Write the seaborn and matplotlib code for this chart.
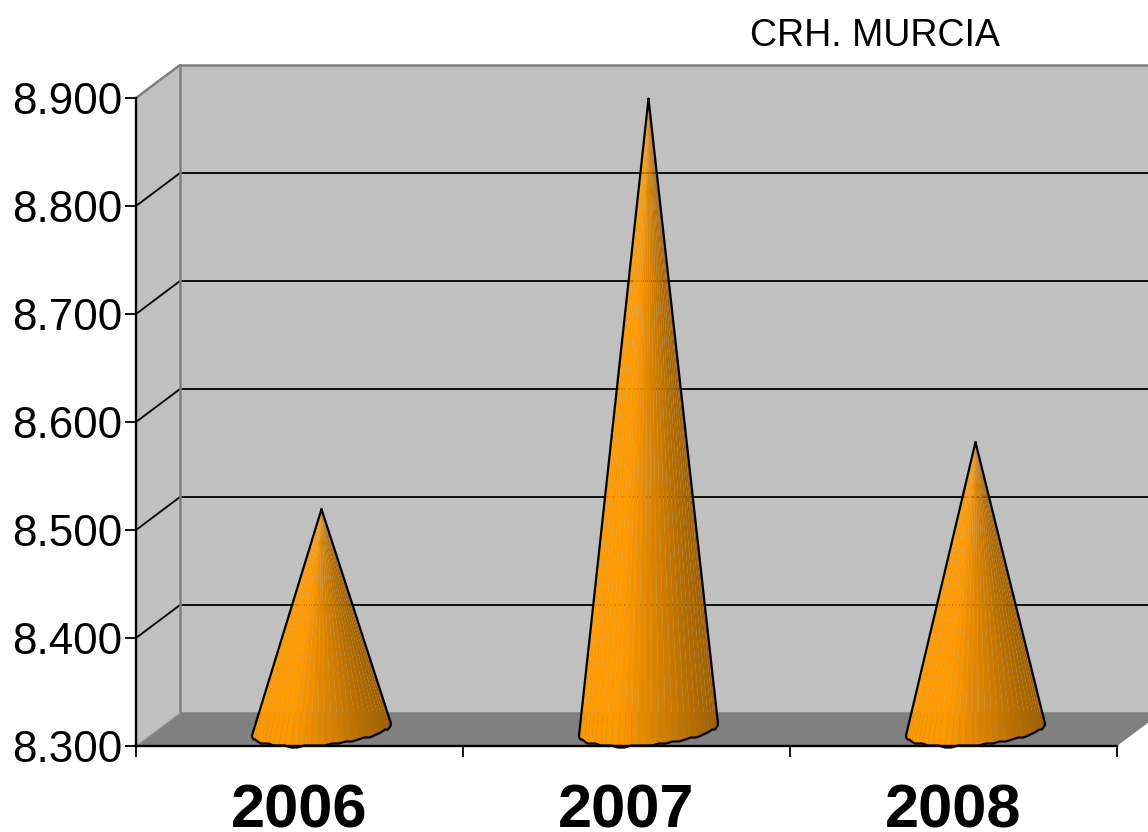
import numpy as np
import pandas as pd
import matplotlib
matplotlib.use("Agg")
import matplotlib.pyplot as plt
from matplotlib.transforms import Affine2D
import seaborn as sns

# Values
years = ["2006", "2007", "2008"]
visits = [8504, 8884, 8566]
y_ticks = [8300, 8400, 8500, 8600, 8700, 8800, 8900]
y_labels = ["8.300", "8.400", "8.500", "8.600", "8.700", "8.800", "8.900"]
title = "CRH. MURCIA"

df = pd.DataFrame({"year": years, "visits": visits})

sns.set_theme(style="white")
plt.rcParams["font.family"] = ["Liberation Sans", "DejaVu Sans"]

W, H = 1148, 832
fig = plt.figure(figsize=(W / 100, H / 100), dpi=100, facecolor="white")
ax = fig.add_axes([136 / W, (H - 746) / H, 981 / W, 648 / H])

# Invisible bars give the position and height of each cone
sns.barplot(data=df, x="year", y="visits", order=years, width=0.425, ax=ax, errorbar=None)
ax.set_xlim(-0.5, 2.5)
ax.set_ylim(8300, 8900)
ax.patch.set_visible(False)
bars = list(ax.patches)
for b in bars:
    b.set_visible(False)

# Depth of the fake 3D box, in pixels
depth_x, depth_y = 44, 33
back = ax.transData + Affine2D().translate(depth_x, depth_y)
mid = ax.transData + Affine2D().translate(depth_x / 2, depth_y / 2)
px = (8900 - 8300) / 648  # data units per pixel

x0, x1 = ax.get_xlim()
y0, y1 = ax.get_ylim()

# Back wall
ax.fill([x0, x1, x1, x0], [y0, y0, y1, y1], transform=back, color="#C0C0C0", lw=0, clip_on=False, zorder=1)
# Side wall
ax.fill([x0, x0, x0 + 44 / 327, x0 + 44 / 327], [y0, y1, y1 + 33 * px, y0 + 33 * px], color="#C0C0C0", lw=0, clip_on=False, zorder=1)
# Floor
ax.fill([x0, x1, x1 + 44 / 327, x0 + 44 / 327], [y0, y0, y0 + 33 * px, y0 + 33 * px], color="#808080", lw=0, clip_on=False, zorder=1)

# Grid lines on both walls
for v in y_ticks[1:-1]:
    ax.plot([x0, x1], [v, v], transform=back, color="black", lw=1.3, clip_on=False, zorder=2)
    ax.plot([x0, x0 + 44 / 327], [v, v + 33 * px], color="black", lw=1.3, clip_on=False, zorder=2)

# Gray box edges
edge = dict(color="#808080", lw=1.8, clip_on=False, zorder=2)
ax.plot([x0, x1], [y1, y1], transform=back, **edge)
ax.plot([x0, x1], [y0, y0], transform=back, **edge)
ax.plot([x0, x0], [y0, y1], transform=back, **edge)
ax.plot([x0, x0 + 44 / 327], [y1, y1 + 33 * px], **edge)
ax.plot([x0, x0 + 44 / 327], [y0, y0 + 33 * px], color="#A0A0A0", lw=0.8, clip_on=False, zorder=2)


def cone_color(c):
    # c is the cosine round the cone, -1 on the left and 1 on the right
    shade = np.interp(c, [-1, -0.45, 0.1, 1], [1.0, 1.0, 0.85, 0.62])
    return (shade, shade * 0.6, 0.0)


# Cones
for b in bars:
    cx = b.get_x() + b.get_width() / 2
    half = b.get_width() / 2
    tip = b.get_y() + b.get_height()
    t = np.linspace(np.pi, 2 * np.pi, 32)
    bx = cx + half * np.cos(t)
    wob = np.round((16 * np.sin(t) + 6 * np.cos(t)) / 2.0) * 2.0
    wob[0], wob[-1] = -6, 6
    by = y0 + wob * px
    for i in range(len(t) - 1):
        ax.fill([cx, bx[i], bx[i + 1]], [tip, by[i], by[i + 1]], transform=mid,
                color=cone_color(np.cos((t[i] + t[i + 1]) / 2)), lw=0, clip_on=False, zorder=3)
    ax.plot(np.r_[cx, bx, cx], np.r_[tip, by, tip], transform=mid, color="black", lw=1.6,
            solid_joinstyle="round", clip_on=False, zorder=4)

# Axis lines, ticks and labels
for s in ["top", "right"]:
    ax.spines[s].set_visible(False)
for s in ["left", "bottom"]:
    ax.spines[s].set_color("black")
    ax.spines[s].set_linewidth(1.7)
    ax.spines[s].set_zorder(5)

ax.set_yticks(y_ticks, y_labels)
ax.set_xticks(range(len(years)), years)
ax.set_xticks([-0.5, 0.5, 1.5, 2.5], minor=True)
ax.tick_params(axis="y", left=True, length=8, width=1.3, color="black", labelsize=31.7, pad=2, labelcolor="black")
ax.tick_params(axis="x", which="major", bottom=False, labelsize=44.2, pad=21, labelcolor="black")
ax.tick_params(axis="x", which="minor", bottom=True, length=8, width=1.3, color="black")
for lab in ax.get_xticklabels():
    lab.set_fontweight("bold")
    lab.set_x(lab.get_position()[0])
ax.set_xlabel("")
ax.set_ylabel("")

fig.text(874.5 / W, 1 - 36 / H, title, fontsize=27, color="black", ha="center", va="center")

fig.savefig("out.png", dpi=100)
